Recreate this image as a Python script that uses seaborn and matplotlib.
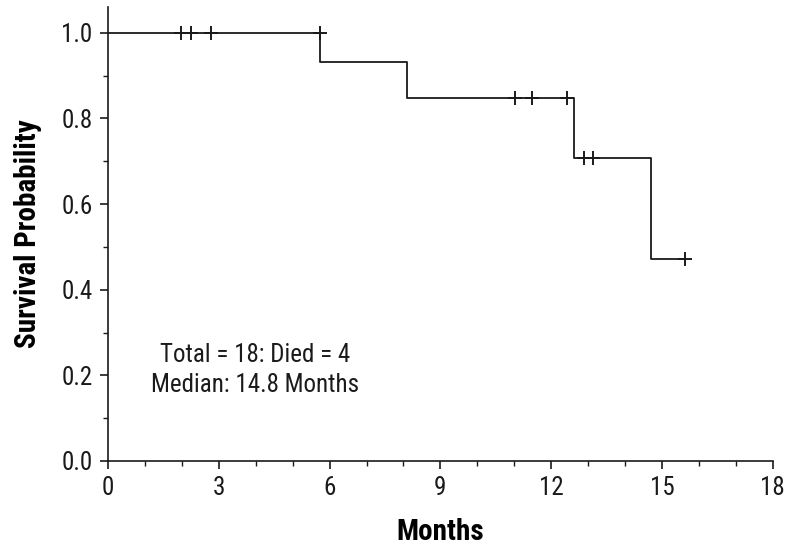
import matplotlib
matplotlib.use('Agg')
import matplotlib.pyplot as plt
import pandas as pd
import seaborn as sns
from matplotlib.ticker import MultipleLocator
from matplotlib import font_manager

# Kaplan-Meier step values
step_months = [0.0, 5.75, 8.10, 12.62, 14.70, 15.62]
step_surv = [1.0, 0.933, 0.848, 0.707, 0.471, 0.471]

# censored observations
censor_months = [1.99, 2.26, 2.79, 5.75, 11.02, 11.49, 12.42, 12.89, 13.13, 15.62]
censor_surv = [1.0, 1.0, 1.0, 1.0, 0.848, 0.848, 0.848, 0.707, 0.707, 0.471]

note_lines = ['Total = 18: Died = 4', 'Median: 14.8 Months']

df_step = pd.DataFrame({'month': step_months, 'surv': step_surv})
df_cens = pd.DataFrame({'month': censor_months, 'surv': censor_surv})

sns.set_style('ticks')

# look for a narrow / condensed face, the original uses one
fonts = font_manager.fontManager.ttflist
names = {f.name for f in fonts}
fam, stretch = None, 'normal'
for n in ['Liberation Sans Narrow', 'Roboto Condensed', 'Noto Sans Condensed',
          'Open Sans Condensed', 'DejaVu Sans Condensed']:
    if n in names:
        fam = n
        break
if fam is None:
    for pref in ['Roboto', 'Noto Sans', 'Open Sans', 'DejaVu Sans']:
        if any(f.name == pref and 'condensed' in str(f.stretch) for f in fonts):
            fam, stretch = pref, 'condensed'
            break
if fam is None:
    fam = 'Roboto' if 'Roboto' in names else 'DejaVu Sans'
plt.rcParams['font.family'] = [fam, 'DejaVu Sans']
plt.rcParams['font.stretch'] = stretch
narrow = stretch == 'condensed' or 'Narrow' in fam or 'Condensed' in fam
fs = 18 if narrow else 15
fl = 21 if narrow else 18

ink = '#1a1a1a'
fig = plt.figure(figsize=(8, 5.54), dpi=100)
ax = fig.add_axes([0.135, 0.168, 0.831, 0.819])

sns.lineplot(data=df_step, x='month', y='surv', ax=ax, drawstyle='steps-post',
             color=ink, linewidth=1.3, estimator=None, sort=False)
ax.plot(df_cens['month'], df_cens['surv'], linestyle='none', marker='+',
        markersize=10, markeredgewidth=1.4, color=ink)

ax.set_xlim(0, 18)
ax.set_ylim(0, 1.06)
ax.xaxis.set_major_locator(MultipleLocator(3))
ax.xaxis.set_minor_locator(MultipleLocator(1))
ax.set_yticks([0, 0.2, 0.4, 0.6, 0.8, 1.0])
ax.yaxis.set_minor_locator(MultipleLocator(0.1))
ax.set_yticklabels(['0.0', '0.2', '0.4', '0.6', '0.8', '1.0'])

ax.tick_params(which='major', direction='out', length=6, width=1.2, color=ink,
               labelsize=fs, labelcolor=ink, pad=5)
ax.tick_params(which='minor', direction='out', length=3.5, width=1.0, color=ink)
for s in ['top', 'right']:
    ax.spines[s].set_visible(False)
for s in ['left', 'bottom']:
    ax.spines[s].set_color(ink)
    ax.spines[s].set_linewidth(1.2)

ax.set_xlabel('Months', fontsize=fl, fontweight='bold', color='black', labelpad=13)
ax.set_ylabel('Survival Probability', fontsize=fl, fontweight='bold', color='black', labelpad=14)

ax.text(3.98, 0.248, note_lines[0], ha='center', va='center', fontsize=fs, color=ink)
ax.text(3.98, 0.178, note_lines[1], ha='center', va='center', fontsize=fs, color=ink)

fig.savefig('out.png', dpi=100)
